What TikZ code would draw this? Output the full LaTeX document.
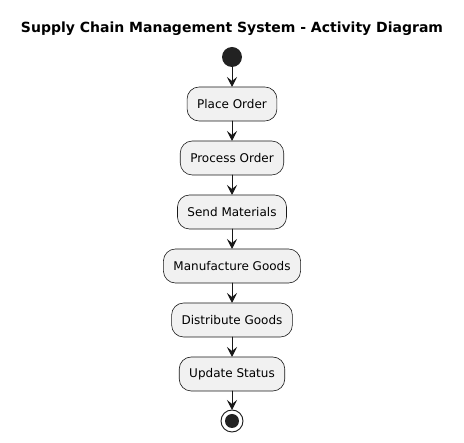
\documentclass[tikz,border=0pt]{standalone}
\usepackage{fontspec}
\setmainfont{DejaVu Sans}
\usetikzlibrary{positioning,arrows.meta}
\definecolor{boxfill}{HTML}{F1F1F1}
\definecolor{inkline}{HTML}{181818}
\definecolor{dotfill}{HTML}{222222}
\begin{document}
\begin{tikzpicture}[x=1pt, y=-1pt, font=\fontsize{12}{14}\selectfont, line join=round, line cap=round,
  >={Stealth[length=10pt, width=10pt, inset=4pt]}, node distance=20pt,
  activity/.style={draw=inkline, fill=boxfill, rounded corners=12pt, minimum height=34pt, inner xsep=10pt, outer sep=0pt, line width=0.6pt},
  flow/.style={->, draw=inkline, fill=inkline, line width=0.9pt}]
\useasboundingbox (0,0) rectangle (464,443);
\node[font=\bfseries\fontsize{14}{16}\selectfont] (title) at (232,29) {Supply Chain Management System - Activity Diagram};
\node[activity] (place) at (232,104) {Place Order};
\node[circle, fill=dotfill, minimum size=20pt, inner sep=0pt, outer sep=0pt, above=of place] (start) {};
\node[activity, below=of place] (process) {Process Order};
\node[activity, below=of process] (send) {Send Materials};
\node[activity, below=of send] (make) {Manufacture Goods};
\node[activity, below=of make] (ship) {Distribute Goods};
\node[activity, below=of ship] (status) {Update Status};
\node[circle, draw=inkline, line width=0.9pt, minimum size=22pt, inner sep=0pt, outer sep=0pt, below=19pt of status] (stop) {};
\fill[dotfill] (stop) circle (7pt);
% flow
\draw[flow] (start) -- (place);
\draw[flow] (place) -- (process);
\draw[flow] (process) -- (send);
\draw[flow] (send) -- (make);
\draw[flow] (make) -- (ship);
\draw[flow] (ship) -- (status);
\draw[flow] (status) -- (stop);
\end{tikzpicture}
\end{document}
